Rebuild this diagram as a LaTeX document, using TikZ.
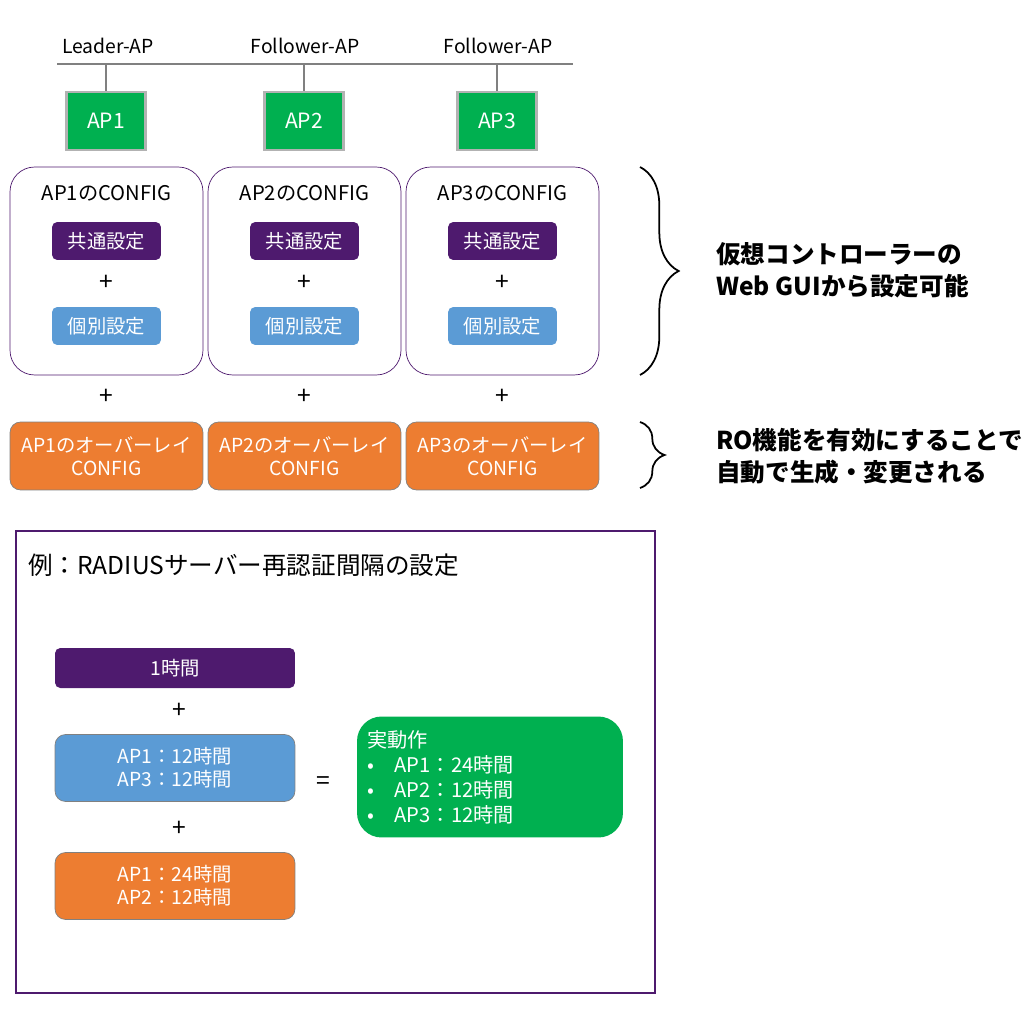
\documentclass[tikz,border=0pt]{standalone}
\usepackage{fontspec}
\setmainfont{Noto Sans CJK JP}
\usetikzlibrary{decorations.pathreplacing}
\definecolor{apgreen}{HTML}{00B050}
\definecolor{cpurple}{HTML}{4E1A6E}
\definecolor{cblue}{HTML}{5B9BD5}
\definecolor{corange}{HTML}{ED7D31}
\tikzset{
  ap/.style={draw=gray!60,line width=1.5pt,fill=apgreen,text=white,minimum width=1.58cm,minimum height=1.16cm,font=\fontsize{12}{14}\selectfont},
  config/.style={draw=cpurple,rounded corners=14pt,minimum width=3.86cm,minimum height=4.16cm},
  common/.style={fill=cpurple,text=white,rounded corners=3pt,minimum width=2.18cm,minimum height=0.76cm,font=\fontsize{11}{13}\selectfont},
  indiv/.style={common,fill=cblue},
  overlay/.style={fill=corange,draw=gray,rounded corners=6pt,text=white,minimum width=3.86cm,minimum height=1.36cm,align=center,font=\fontsize{11}{13}\selectfont},
  plus/.style={font=\fontsize{14}{16}\selectfont},
  note/.style={font=\fontsize{14}{18}\selectfont\bfseries,align=left,anchor=west}
}
\begin{document}
\begin{tikzpicture}[x=0.02cm,y=-0.02cm]
\useasboundingbox (0,0) rectangle (1024,1024);
% network
\coordinate (l0) at (57,64);
\coordinate (l1) at (573,64);
\draw[gray,line width=1.5pt] (l0) -- (l1);
\node[font=\fontsize{11}{13}\selectfont] (lead) at (108,46) {Leader-AP};
\node[font=\fontsize{11}{13}\selectfont] (fol2) at (305,46) {Follower-AP};
\node[font=\fontsize{11}{13}\selectfont] (fol3) at (498,46) {Follower-AP};
%
\foreach \i/\x in {1/106,2/304,3/497}{
  \node[ap] (ap\i) at (\x,121) {AP\i};
  \coordinate (t\i) at (\x,64);
  \draw[gray,line width=1.5pt] (t\i) -- (ap\i);
}
% config blocks
\foreach \i/\x in {1/106.5,2/304.5,3/502.5}{
  \node[config] (cfg\i) at (\x,271) {};
  \node[font=\fontsize{11.5}{13}\selectfont] (cfgt\i) at (\x,193) {AP\i のCONFIG};
  \node[common] (com\i) at (\x,241) {共通設定};
  \node[plus] (pa\i) at (\x,283) {+};
  \node[indiv] (ind\i) at (\x,326) {個別設定};
  \node[plus] (pb\i) at (\x,397) {+};
  \node[overlay] (ov\i) at (\x,456) {AP\i のオーバーレイ\\CONFIG};
}
% braces
\coordinate (b0) at (640,167);
\coordinate (b1) at (640,375);
\draw[line width=1pt,decorate,decoration={brace,amplitude=22pt}] (b0) -- (b1);
\coordinate (c0) at (640,422);
\coordinate (c1) at (640,488);
\draw[line width=1pt,decorate,decoration={brace,amplitude=14pt}] (c0) -- (c1);
\node[note] (n1) at (710,270) {仮想コントローラーの\\Web GUIから設定可能};
\node[note] (n2) at (710,456) {RO機能を有効にすることで\\自動で生成・変更される};
% example
\draw[cpurple,line width=1.5pt] (16,531) rectangle (655,993);
\node[anchor=west,font=\fontsize{14}{16}\selectfont] (ex) at (22,565) {例：RADIUSサーバー再認証間隔の設定};
\node[common,minimum width=4.8cm,minimum height=0.8cm] (e1) at (175,668) {1時間};
\node[plus] (ep1) at (179,711) {+};
\node[indiv,minimum width=4.8cm,minimum height=1.34cm,draw=gray,rounded corners=6pt,align=center] (e2) at (175,768) {AP1：12時間\\AP3：12時間};
\node[plus] (ep2) at (179,829) {+};
\node[overlay,minimum width=4.8cm,minimum height=1.34cm] (e3) at (175,886) {AP1：24時間\\AP2：12時間};
\node[plus] (eq) at (323,783) {=};
\node[fill=apgreen,text=white,rounded corners=14pt,minimum width=5.32cm,minimum height=2.42cm,text width=4.9cm,align=left,font=\fontsize{11.5}{14.2}\selectfont] (res) at (490,777) {実動作\\\textbullet\quad AP1：24時間\\\textbullet\quad AP2：12時間\\\textbullet\quad AP3：12時間};
\end{tikzpicture}
\end{document}
